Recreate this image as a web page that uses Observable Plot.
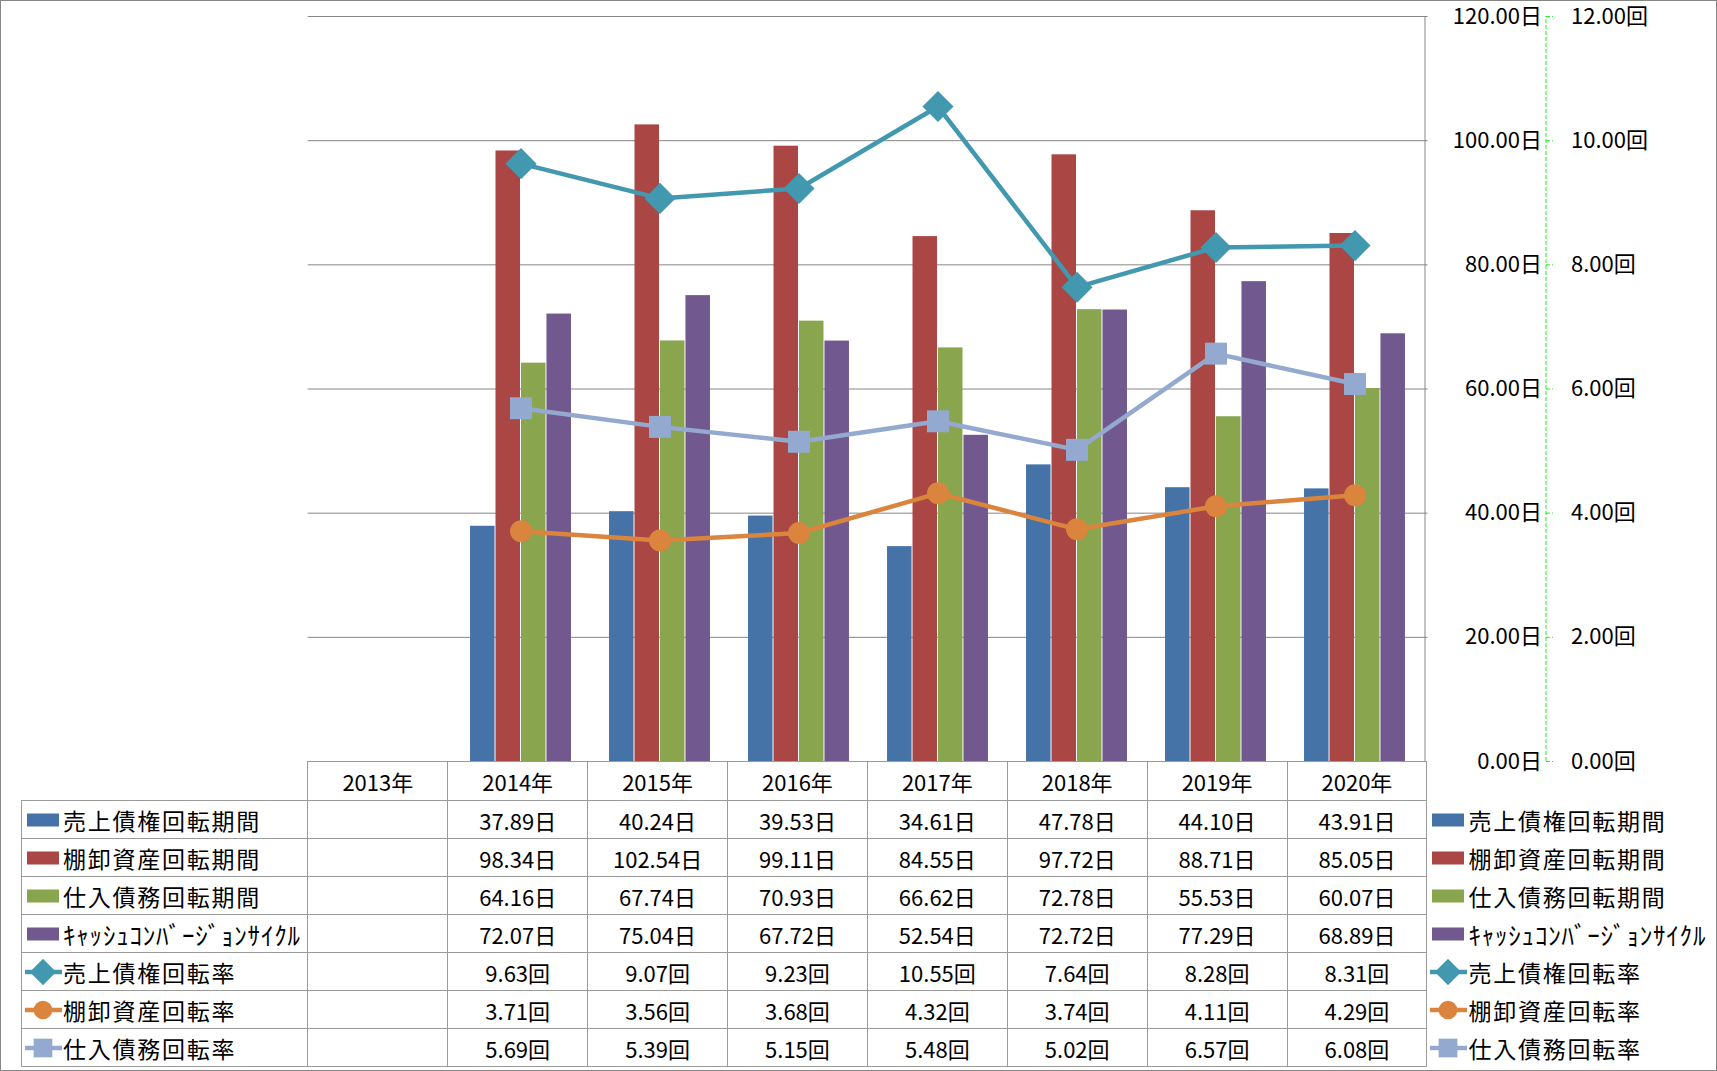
<!DOCTYPE html>
<html>
<head>
<meta charset="utf-8">
<script src="https://cdn.jsdelivr.net/npm/d3@7"></script>
<script src="https://cdn.jsdelivr.net/npm/@observablehq/plot@0.6"></script>
<style>
  body { margin: 0; background: #fff; }
  #wrap { position: relative; width: 1717px; height: 1071px; box-sizing: border-box; border: 1px solid #868686;
          font-family: "Noto Sans CJK JP", sans-serif; color: #000; overflow: hidden; background: #fff; }
  #chart { position: absolute; left: 0; top: 0; }
  #tbl { position: absolute; left: 20px; top: 760px; border-collapse: collapse; table-layout: fixed; }
  #tbl td { border: 1px solid #9a9a9a; padding: 0; text-align: center; font-size: 22px; white-space: nowrap; overflow: visible; line-height: 28px; }
  #tbl tr.hd td { height: 38px; }
  #tbl tr.rw td { height: 37px; }
  #tbl td.corner { border-top: none; border-left: none; }
  #tbl td.rleg, #tbl td.rblank { border: none; text-align: left; }
  #tbl td.leg { text-align: left; }
  .lg { display: flex; align-items: center; }
  .lg svg { flex: none; display: block; }
  .lg span { font-size: 23px; letter-spacing: 1.75px; }
  .lg span.hw { font-size: 25px; letter-spacing: 0.8px; }
</style>
</head>
<body>
<div id="wrap"><div id="chart"></div></div>
<script>
// ---- data ----
const years = ["2013年", "2014年", "2015年", "2016年", "2017年", "2018年", "2019年", "2020年"];
const dataYears = ["2014年", "2015年", "2016年", "2017年", "2018年", "2019年", "2020年"];

const receivablePeriod = [37.89, 40.24, 39.53, 34.61, 47.78, 44.10, 43.91];
const inventoryPeriod  = [98.34, 102.54, 99.11, 84.55, 97.72, 88.71, 85.05];
const payablePeriod    = [64.16, 67.74, 70.93, 66.62, 72.78, 55.53, 60.07];
const cccDays          = [72.07, 75.04, 67.72, 52.54, 72.72, 77.29, 68.89];

const receivableTurnover = [9.63, 9.07, 9.23, 10.55, 7.64, 8.28, 8.31];
const inventoryTurnover  = [3.71, 3.56, 3.68, 4.32, 3.74, 4.11, 4.29];
const payableTurnover    = [5.69, 5.39, 5.15, 5.48, 5.02, 6.57, 6.08];

const dayTicks = [0, 20, 40, 60, 80, 100, 120];
const timesTicks = [0, 2, 4, 6, 8, 10, 12];

const barNames = ["売上債権回転期間", "棚卸資産回転期間", "仕入債務回転期間", "ｷｬｯｼｭｺﾝﾊﾞｰｼﾞｮﾝｻｲｸﾙ"];
const barValues = [receivablePeriod, inventoryPeriod, payablePeriod, cccDays];
const barColors = ["#4572A7", "#AA4643", "#89A54E", "#71588F"];

const lineNames = ["売上債権回転率", "棚卸資産回転率", "仕入債務回転率"];
const lineValues = [receivableTurnover, inventoryTurnover, payableTurnover];
const lineColors = ["#4198AF", "#DB843D", "#93A9CF"];
const lineSymbols = ["diamond2", "circle", "square"];
const lineR = [14, 11, 12.4];

const FONT = '"Noto Sans CJK JP", sans-serif';

// ---- layout ----
const W = 1715, H = 762;
const marginLeft = 306.7, marginRight = 288.5, marginTop = 15, marginBottom = 2;
const bw = (W - marginLeft - marginRight) / years.length;
const groupFrac = 0.728;
const barW = bw * groupFrac / barNames.length;
const gap = bw * (1 - groupFrac) / 2;
const ratio = 10; // 回 -> 日 scale (12回 ↔ 120日)

const barMarks = barValues.map((vals, i) =>
  Plot.barY(dataYears.map((y, j) => ({year: y, value: vals[j]})), {
    x: "year", y: "value", fill: barColors[i],
    insetLeft: gap + i * barW, insetRight: bw - gap - (i + 1) * barW
  })
);

const lineMarks = lineValues.flatMap((vals, i) => {
  const rows = dataYears.map((y, j) => ({year: y, value: vals[j] * ratio}));
  return [
    Plot.line(rows, {x: "year", y: "value", stroke: lineColors[i], strokeWidth: 4.5}),
    Plot.dot(rows, {x: "year", y: "value", symbol: lineSymbols[i], r: lineR[i], fill: lineColors[i], stroke: "none"})
  ];
});

const last = years[years.length - 1];

const chart = Plot.plot({
  width: W, height: H, marginLeft, marginRight, marginTop, marginBottom,
  x: {domain: years, type: "band", padding: 0, axis: null},
  y: {domain: [0, 120], axis: null},
  style: {fontFamily: FONT, fontSize: "22px", color: "#000", background: "transparent", overflow: "visible"},
  marks: [
    Plot.ruleY(dayTicks.filter(d => d > 0), {stroke: "#868686", strokeWidth: 1}),
    ...barMarks,
    ...lineMarks,
    // primary axis line on right edge of plot
    Plot.ruleX([last], {dx: bw / 2, y1: 0, y2: 120, stroke: "#868686", strokeWidth: 1}),
    // primary (日) labels
    Plot.text(dayTicks, {y: d => d, frameAnchor: "right", text: d => d.toFixed(2) + "日",
      textAnchor: "end", dx: 114, fontSize: 22, fill: "#000"}),
    // secondary axis (dashed green)
    Plot.ruleX([last], {dx: bw / 2 + 121, y1: 0, y2: 120, stroke: "#22ee22", strokeWidth: 1, strokeDasharray: "4,2"}),
    Plot.tickY(timesTicks, {x: () => last, y: d => d * ratio, dx: 129, insetLeft: bw - 8,
      stroke: "#22ee22", strokeWidth: 1, strokeDasharray: "4,2"}),
    Plot.text(timesTicks, {y: d => d * ratio, frameAnchor: "right", text: d => d.toFixed(2) + "回",
      textAnchor: "start", dx: 143, fontSize: 22, fill: "#000"})
  ]
});
document.getElementById("chart").appendChild(chart);

// ---- data table with legend keys ----
function keySvg(kind, i) {
  const svg = d3.create("svg").attr("width", 41).attr("height", 26);
  if (kind === "bar") {
    svg.append("rect").attr("x", 5).attr("y", 6.5).attr("width", 32).attr("height", 13).attr("fill", barColors[i]);
  } else {
    svg.append("line").attr("x1", 3).attr("x2", 40).attr("y1", 13).attr("y2", 13)
      .attr("stroke", lineColors[i]).attr("stroke-width", 4.5);
    const sym = {diamond2: d3.symbolDiamond2, circle: d3.symbolCircle, square: d3.symbolSquare}[lineSymbols[i]];
    const r = lineR[i] * 0.85;
    svg.append("path").attr("transform", "translate(21,13)")
      .attr("d", d3.symbol(sym, Math.PI * r * r)()).attr("fill", lineColors[i]);
  }
  return svg.node();
}
function legendCell(cls, kind, i, name) {
  const td = document.createElement("td");
  td.className = cls;
  const div = document.createElement("div");
  div.className = "lg";
  div.appendChild(keySvg(kind, i));
  const sp = document.createElement("span");
  sp.textContent = name;
  if (/[\uFF61-\uFF9F]/.test(name)) sp.className = "hw";
  div.appendChild(sp);
  td.appendChild(div);
  return td;
}

const tbl = document.createElement("table");
tbl.id = "tbl";
const cg = document.createElement("colgroup");
[286.4, ...years.map(() => bw), 288.5].forEach(w => {
  const c = document.createElement("col"); c.style.width = w + "px"; cg.appendChild(c);
});
tbl.appendChild(cg);

const hr = document.createElement("tr");
hr.className = "hd";
const c0 = document.createElement("td"); c0.className = "corner"; hr.appendChild(c0);
years.forEach(y => { const td = document.createElement("td"); td.textContent = y; hr.appendChild(td); });
const cE = document.createElement("td"); cE.className = "rblank"; hr.appendChild(cE);
tbl.appendChild(hr);

const rowsDef = [
  ...barNames.map((n, i) => ({kind: "bar", i, name: n, vals: barValues[i], unit: "日"})),
  ...lineNames.map((n, i) => ({kind: "line", i, name: n, vals: lineValues[i], unit: "回"}))
];
rowsDef.forEach(r => {
  const tr = document.createElement("tr");
  tr.className = "rw";
  tr.appendChild(legendCell("leg", r.kind, r.i, r.name));
  years.forEach(y => {
    const td = document.createElement("td");
    const j = dataYears.indexOf(y);
    td.textContent = j >= 0 ? r.vals[j].toFixed(2) + r.unit : "";
    tr.appendChild(td);
  });
  tr.appendChild(legendCell("rleg", r.kind, r.i, r.name));
  tbl.appendChild(tr);
});
document.getElementById("wrap").appendChild(tbl);
</script>
</body>
</html>
